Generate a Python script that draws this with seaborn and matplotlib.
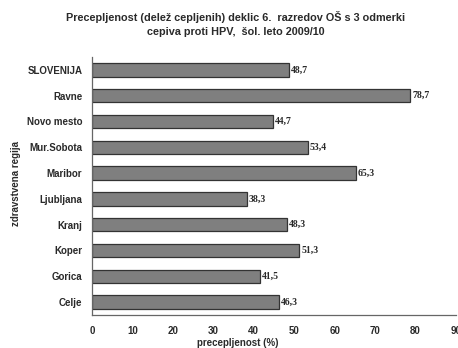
import matplotlib
matplotlib.use("Agg")
import matplotlib.pyplot as plt
import seaborn as sns
import pandas as pd

regions = ["SLOVENIJA", "Ravne", "Novo mesto", "Mur.Sobota", "Maribor",
           "Ljubljana", "Kranj", "Koper", "Gorica", "Celje"]
values = [48.7, 78.7, 44.7, 53.4, 65.3, 38.3, 48.3, 51.3, 41.5, 46.3]
x_ticks = [0, 10, 20, 30, 40, 50, 60, 70, 80, 90]

df = pd.DataFrame({"regija": regions, "delez": values})

sns.set_theme(style="white")
plt.rcParams["font.family"] = ["Liberation Sans", "DejaVu Sans"]

text_color = "#2a2a2a"

fig = plt.figure(figsize=(4.58, 3.48), dpi=100)
ax = fig.add_axes([92 / 458, 1 - 315 / 348, (456 - 92) / 458, (315 - 57) / 348])

sns.barplot(data=df, y="regija", x="delez", orient="h", color="#7f7f7f",
            edgecolor="#333333", linewidth=0.9, width=0.52, saturation=1, ax=ax)

# value labels at the end of each bar, with a decimal comma
for i, v in enumerate(values):
    ax.text(v + 0.5, i, f"{v:.1f}".replace(".", ","), va="center", ha="left",
            fontsize=7, fontweight="bold", family="Liberation Serif", color=text_color)

ax.set_xlim(0, 90)
ax.set_ylim(9.5, -0.5)
ax.set_xticks(x_ticks)
ax.set_xticklabels([str(t) for t in x_ticks], fontsize=7, fontweight="bold", color=text_color)
ax.set_yticks(range(len(regions)))
ax.set_yticklabels(regions, fontsize=7, fontweight="bold", color=text_color)
# tick marks between categories on the vertical axis
ax.set_yticks([i + 0.5 for i in range(-1, len(regions))], minor=True)
ax.tick_params(axis="y", which="major", length=0, pad=7)
ax.tick_params(axis="y", which="minor", length=3, width=0.8, color="#555555", direction="out")
ax.tick_params(axis="x", which="major", length=3, width=0.8, color="#555555", direction="out", pad=5)

for s in ["top", "right"]:
    ax.spines[s].set_visible(False)
for s in ["left", "bottom"]:
    ax.spines[s].set_color("#666666")
    ax.spines[s].set_linewidth(0.9)

ax.set_xlabel("precepljenost (%)", fontsize=7, fontweight="bold", color=text_color)
ax.xaxis.set_label_coords((238 - 92) / 364, -(343 - 315) / 258)
ax.xaxis.label.set_va("center")
ax.set_ylabel("zdravstvena regija", fontsize=7, fontweight="bold", color=text_color)
ax.yaxis.set_label_coords((16 - 92) / 364, 0.5 - (183 - 186) / 258)
ax.yaxis.label.set_va("center")

fig.text(236 / 458, 1 - 24 / 348,
         "Precepljenost (delež cepljenih) deklic 6.  razredov OŠ s 3 odmerki\ncepiva proti HPV,  šol. leto 2009/10",
         ha="center", va="center", fontsize=7.8, fontweight="bold", color=text_color, linespacing=1.45)

fig.savefig("out.png", dpi=100)
